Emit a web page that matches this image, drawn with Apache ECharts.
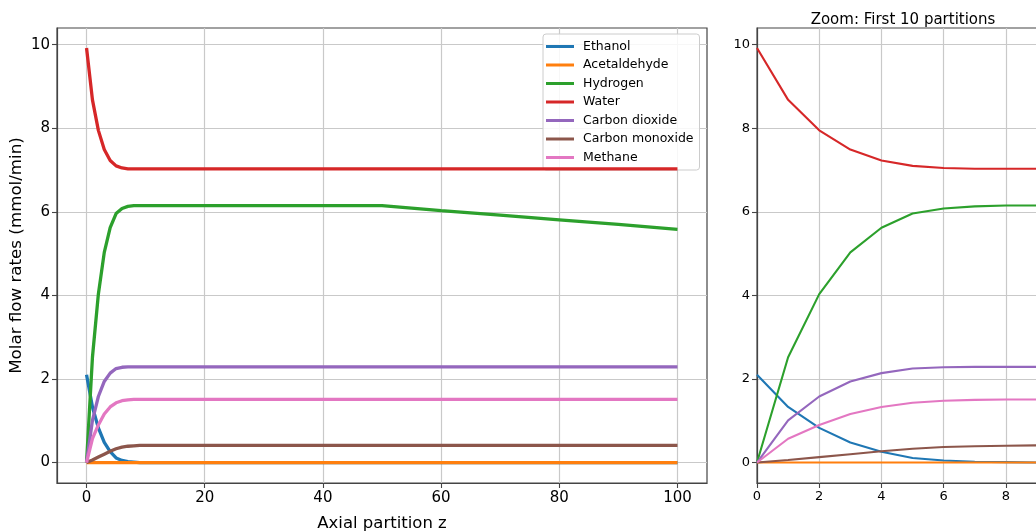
<!DOCTYPE html>
<html>
<head>
<meta charset="utf-8">
<script src="https://cdn.jsdelivr.net/npm/echarts@6/dist/echarts.min.js"></script>
<style>
html,body{margin:0;padding:0;background:#fff;}
#chart{width:1036px;height:531px;}
</style>
</head>
<body>
<div id="chart"></div>
<script>
// Axial partition positions where values were read
const z = [0,1,2,3,4,5,6,7,8,9,10,20,30,40,50,60,70,80,90,100];
const ethanol      = [2.10,1.33,0.83,0.48,0.26,0.11,0.05,0.02,0.01,0.00,0.00,0,0,0,0,0,0,0,0,0];
const acetaldehyde = [0,0,0,0,0,0,0,0,0,0,0,0,0,0,0,0,0,0,0,0];
const hydrogen     = [0,2.52,4.03,5.03,5.62,5.96,6.08,6.13,6.15,6.15,6.15,6.15,6.15,6.15,6.15,6.03,5.92,5.81,5.70,5.58];
const water        = [9.92,8.68,7.95,7.49,7.23,7.10,7.05,7.03,7.03,7.03,7.03,7.03,7.03,7.03,7.03,7.03,7.03,7.03,7.03,7.03];
const co2          = [0,1.01,1.58,1.94,2.14,2.25,2.28,2.29,2.29,2.29,2.29,2.29,2.29,2.29,2.29,2.29,2.29,2.29,2.29,2.29];
const co           = [0,0.06,0.13,0.20,0.27,0.33,0.37,0.39,0.40,0.41,0.41,0.41,0.41,0.41,0.41,0.41,0.41,0.41,0.41,0.41];
const methane      = [0,0.57,0.90,1.16,1.33,1.43,1.48,1.50,1.51,1.51,1.51,1.51,1.51,1.51,1.51,1.51,1.51,1.51,1.51,1.51];

const seriesNames = ['Ethanol','Acetaldehyde','Hydrogen','Water','Carbon dioxide','Carbon monoxide','Methane'];
const seriesData = [ethanol, acetaldehyde, hydrogen, water, co2, co, methane];
const colors = ['#1f77b4','#ff7f0e','#2ca02c','#d62728','#9467bd','#8c564b','#e377c2'];

const mainXTicks = [0,20,40,60,80,100];
const yTicks = [0,2,4,6,8,10];
const zoomCount = 10;

const FONT = 'DejaVu Sans';
const spine = '#444';
const gridColor = '#c9c9c9';

function pairs(vals, n) {
  const out = [];
  const m = n === undefined ? z.length : n;
  for (let i = 0; i < m; i++) out.push([z[i], vals[i]]);
  return out;
}

const series = [];
seriesNames.forEach((name, i) => {
  series.push({
    name, type: 'line', xAxisIndex: 0, yAxisIndex: 0,
    data: pairs(seriesData[i]), showSymbol: false, symbol: 'none',
    lineStyle: { width: 3.3, color: colors[i] }, itemStyle: { color: colors[i] },
    z: 2 + i, animation: false
  });
});
seriesNames.forEach((name, i) => {
  series.push({
    name, type: 'line', xAxisIndex: 1, yAxisIndex: 1,
    data: pairs(seriesData[i], zoomCount), showSymbol: false, symbol: 'none',
    lineStyle: { width: 2.1, color: colors[i] }, itemStyle: { color: colors[i] },
    z: 2 + i, animation: false
  });
});

const axisLineStyle = { show: true, onZero: false, lineStyle: { color: spine, width: 1.2 } };
const tickStyle = { color: spine, width: 1.1 };

const chart = echarts.init(document.getElementById('chart'), null, { renderer: 'canvas' });
chart.setOption({
  animation: false,
  textStyle: { fontFamily: FONT },
  title: {
    text: 'Zoom: First 10 partitions',
    left: 898, top: 8, textAlign: 'center',
    textStyle: { fontFamily: FONT, fontSize: 15, fontWeight: 'normal', color: '#000' }
  },
  legend: {
    data: seriesNames,
    orient: 'vertical',
    left: 543, top: 34,
    padding: [6, 6, 6, 3],
    itemGap: 5.5,
    itemWidth: 28, itemHeight: 3,
    icon: 'rect',
    backgroundColor: 'rgba(255,255,255,0.85)',
    borderColor: '#cccccc', borderWidth: 1, borderRadius: 3,
    selectedMode: false,
    textStyle: { fontFamily: FONT, fontSize: 12.5, color: '#000', padding: [0,0,0,4] }
  },
  grid: [
    { left: 57, top: 28, width: 650, height: 455, outerBoundsMode: 'none', containLabel: false, show: true, borderColor: spine, borderWidth: 1.2, backgroundColor: 'transparent' },
    { left: 757, top: 28, width: 280, height: 455, outerBoundsMode: 'none', containLabel: false, show: true, borderColor: spine, borderWidth: 1.2, backgroundColor: 'transparent' }
  ],
  xAxis: [
    {
      type: 'value', gridIndex: 0, min: -5, max: 105,
      name: 'Axial partition z', nameLocation: 'middle', nameGap: 32,
      nameTextStyle: { fontFamily: FONT, fontSize: 16.5, color: '#000' },
      axisLine: axisLineStyle,
      axisTick: { show: true, inside: false, length: 5, lineStyle: tickStyle, customValues: mainXTicks },
      axisLabel: { fontFamily: FONT, fontSize: 15, color: '#000', margin: 8, customValues: mainXTicks },
      splitLine: { show: true, lineStyle: { color: gridColor, width: 1.2 } }
    },
    {
      type: 'value', gridIndex: 1, min: 0, max: 9, interval: 2,
      axisLine: axisLineStyle,
      axisTick: { show: true, inside: false, length: 5, lineStyle: tickStyle },
      axisLabel: { fontFamily: FONT, fontSize: 13, color: '#000', margin: 7, showMaxLabel: false },
      splitLine: { show: true, lineStyle: { color: gridColor, width: 1.2 } }
    }
  ],
  yAxis: [
    {
      type: 'value', gridIndex: 0, min: -0.49, max: 10.4,
      name: 'Molar flow rates (mmol/min)', nameLocation: 'middle', nameGap: 32,
      nameMoveOverlap: false,
      nameTextStyle: { fontFamily: FONT, fontSize: 16.7, color: '#000' },
      axisLine: axisLineStyle,
      axisTick: { show: true, inside: false, length: 5, lineStyle: tickStyle, customValues: yTicks },
      axisLabel: { fontFamily: FONT, fontSize: 15, color: '#000', margin: 7, customValues: yTicks },
      splitLine: { show: true, lineStyle: { color: gridColor, width: 1.2 } }
    },
    {
      type: 'value', gridIndex: 1, min: -0.49, max: 10.4,
      axisLine: axisLineStyle,
      axisTick: { show: true, inside: false, length: 5, lineStyle: tickStyle, customValues: yTicks },
      axisLabel: { fontFamily: FONT, fontSize: 13, color: '#000', margin: 7, customValues: yTicks },
      splitLine: { show: true, lineStyle: { color: gridColor, width: 1.2 } }
    }
  ],
  series
});
</script>
</body>
</html>
